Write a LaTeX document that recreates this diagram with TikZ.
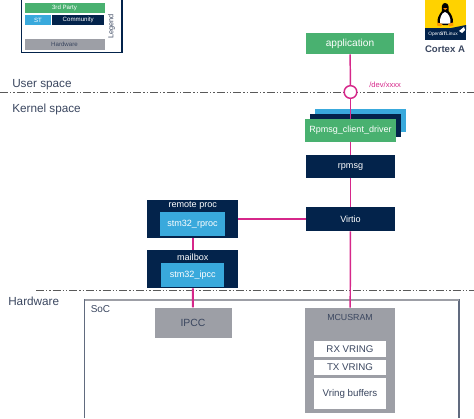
\documentclass[tikz,border=0pt]{standalone}
\usepackage{fontspec}
\setmainfont{Liberation Sans}
\definecolor{stgreen}{HTML}{49B170}
\definecolor{stblue}{HTML}{39A9DC}
\definecolor{stnavy}{HTML}{03234B}
\definecolor{stgrey}{HTML}{9D9FA6}
\definecolor{stpink}{HTML}{D6278A}
\definecolor{sttext}{HTML}{3A465F}
\definecolor{styellow}{HTML}{FFD200}
\tikzset{
  gbox/.style={draw=none,fill=stgreen,text=white},
  nbox/.style={draw=none,fill=stnavy,text=white},
  cbox/.style={draw=none,fill=stblue,text=white},
  ggbox/.style={draw=none,fill=stgrey,text=sttext},
  wbox/.style={draw=none,fill=white,text=sttext},
  link/.style={draw=stpink,line width=1.1pt},
  sep/.style={draw=black!65,line width=0.7pt,dash pattern=on 6pt off 1.5pt on 1pt off 1.5pt on 1pt off 1.5pt},
  lab/.style={text=sttext,font=\fontsize{8.8pt}{10pt}\selectfont,inner sep=0pt,anchor=base west}
}
\begin{document}
\begin{tikzpicture}[x=0.75pt,y=-0.75pt]
\useasboundingbox (0,0) rectangle (474,418);
% separators
\coordinate (sepUa) at (0,92); \coordinate (sepUb) at (474,92);
\coordinate (sepHa) at (36,290); \coordinate (sepHb) at (474,290);
\draw[sep] (sepUa) -- (sepUb);
\draw[sep] (sepHa) -- (sepHb);
% Legend
\node[draw=stnavy,line width=1pt,fill=white,minimum width=75.5pt,minimum height=39.5pt,inner sep=0pt] (legend) at (71.5,26) {};
\node[fill=stgreen,text=white,minimum width=60pt,minimum height=7.9pt,inner sep=0pt,font=\fontsize{4.6pt}{5pt}\selectfont] (l3) at (64.5,8.2) {3rd Party};
\node[fill=stblue,text=white,minimum width=20pt,minimum height=7.9pt,inner sep=0pt,font=\fontsize{4.6pt}{5pt}\selectfont] (lst) at (38,20.2) {ST};
\node[fill=stnavy,text=white,minimum width=39.4pt,minimum height=7.9pt,inner sep=0pt,font=\fontsize{4.6pt}{5pt}\selectfont] (lcom) at (78.2,20.2) {Community};
\node[fill=stgrey,text=sttext,minimum width=60pt,minimum height=7.9pt,inner sep=0pt,font=\fontsize{4.6pt}{5pt}\selectfont] (lhw) at (64.5,44.7) {Hardware};
\node[rotate=90,text=sttext,inner sep=0pt,font=\fontsize{5.5pt}{6pt}\selectfont] (lleg) at (111.5,26.5) {Legend};
% Logo
\fill[stnavy] (425,28) rectangle (466,39.5);
\fill[styellow] (425,0) rectangle (466,28);
\fill[stnavy] (451,28) -- (466,25) -- (466,30) -- (451,30) -- cycle;
\fill[black] (445,3) .. controls (441.5,3) and (441.5,8) .. (442,11) .. controls (438.5,15) and (437,19) .. (437.5,23) -- (443,25) -- (448,25) -- (453,23) .. controls (453.5,19) and (451.5,14) .. (448.5,11) .. controls (449,8) and (449,3) .. (445,3) -- cycle;
\fill[white] (445,12) .. controls (441.5,13) and (439.5,18) .. (440,23.5) -- (450.5,23.5) .. controls (451,18) and (448.5,13) .. (445,12) -- cycle;
\fill[orange] (443,8) -- (447.5,8) -- (445.2,10) -- cycle;
\fill[orange!80!yellow] (437,22.5) -- (442.5,24) -- (441,26.5) -- (437,25.5) -- cycle;
\fill[orange!80!yellow] (453,22.5) -- (448,24) -- (449.5,26.5) -- (453.5,25.5) -- cycle;
\fill[white] (459,31) -- (464,27) -- (465,30) -- (462,33) -- cycle;
\node[text=white,inner sep=0pt,font=\fontsize{3.6pt}{4pt}\selectfont] (logotxt) at (443,34) {Open\textbf{ST}Linux};
\node[text=sttext,inner sep=0pt,font=\fontsize{7.2pt}{9pt}\selectfont\bfseries] (cortex) at (445,49) {Cortex A};
% labels
\node[lab] (us) at (12,87) {User space};
\node[lab] (ks) at (12,112) {Kernel space};
\node[lab] (hw) at (8,305) {Hardware};
\node[text=stpink,inner sep=0pt,anchor=base west,font=\fontsize{5.7pt}{7pt}\selectfont] (dev) at (369,87) {/dev/xxxx};
% SoC
\draw[draw=sttext!80,line width=0.8pt] (84.5,418) -- (84.5,300) -- (459,300) -- (459,418);
\draw[draw=stgrey,line width=1.2pt] (84.5,300) -- (459,300);
\node[text=sttext,inner sep=0pt,anchor=base west,font=\fontsize{7.5pt}{9pt}\selectfont] (soc) at (90.5,312) {SoC};
% Stacked driver boxes
\node[cbox,minimum width=68.25pt,minimum height=17.25pt,inner sep=0pt] (drvb) at (360.5,120.5) {};
\node[nbox,minimum width=68.25pt,minimum height=17.25pt,inner sep=0pt] (drvn) at (355.5,125.5) {};
\node[gbox,minimum width=68.25pt,minimum height=17.25pt,inner sep=0pt,font=\fontsize{6.75pt}{9pt}\selectfont] (drv) at (350.5,130.5) {Rpmsg\_client\_driver};
% Main boxes
\node[gbox,minimum width=66pt,minimum height=15.75pt,inner sep=0pt,font=\fontsize{7.6pt}{9pt}\selectfont] (app) at (350,43.5) {application};
\node[draw=stpink,line width=1.1pt,fill=white,circle,minimum size=9.5pt,inner sep=0pt] (vdev) at (350.5,92) {};
\node[nbox,minimum width=66.75pt,minimum height=17.25pt,inner sep=0pt,font=\fontsize{6.8pt}{9pt}\selectfont] (rpmsg) at (350.5,166.5) {rpmsg};
\node[nbox,minimum width=66.75pt,minimum height=18pt,inner sep=0pt,font=\fontsize{6.8pt}{9pt}\selectfont] (virtio) at (350.5,219) {Virtio};
\node[nbox,minimum width=68pt,minimum height=28.5pt,inner sep=0pt] (rproc) at (192.75,219) {};
\node[text=white,inner sep=0pt,font=\fontsize{6.8pt}{9pt}\selectfont] (rproct) at (192.75,206) {remote proc};
\node[cbox,minimum width=48.75pt,minimum height=18pt,inner sep=0pt,font=\fontsize{6.8pt}{9pt}\selectfont] (rprocd) at (192.5,224) {stm32\_rproc};
\node[nbox,minimum width=68pt,minimum height=28.5pt,inner sep=0pt] (mbox) at (192.75,269) {};
\node[text=white,inner sep=0pt,font=\fontsize{6.8pt}{9pt}\selectfont] (mboxt) at (192.75,257) {mailbox};
\node[cbox,minimum width=47.6pt,minimum height=18pt,inner sep=0pt,font=\fontsize{6.8pt}{9pt}\selectfont] (ipccd) at (192.75,275) {stm32\_ipcc};
\node[ggbox,minimum width=57.75pt,minimum height=23pt,inner sep=0pt,font=\fontsize{7.8pt}{9pt}\selectfont] (ipcc) at (193,323) {IPCC};
\node[ggbox,minimum width=67.5pt,minimum height=78.75pt,inner sep=0pt] (sram) at (350,360.5) {};
\node[text=sttext,inner sep=0pt,font=\fontsize{6.6pt}{8pt}\selectfont] (sramt) at (350,317) {MCUSRAM};
\node[wbox,minimum width=54pt,minimum height=12pt,inner sep=0pt,font=\fontsize{7.3pt}{9pt}\selectfont] (rx) at (350,349) {RX VRING};
\node[wbox,minimum width=54pt,minimum height=11.25pt,inner sep=0pt,font=\fontsize{7.3pt}{9pt}\selectfont] (tx) at (350,367.5) {TX VRING};
\node[wbox,minimum width=54pt,minimum height=23.25pt,inner sep=0pt,font=\fontsize{7.3pt}{9pt}\selectfont] (buf) at (350,393.5) {Vring buffers};
% connectors
\draw[link] (app) -- (vdev);
\draw[link] (vdev) -- (drv);
\draw[link] (drv) -- (rpmsg);
\draw[link] (rpmsg) -- (virtio);
\draw[link] (virtio) -- (sram);
\draw[link] (rproc.east |- virtio) -- (virtio);
\draw[link,line width=1.5pt] (rproc) -- (mbox);
\draw[link,line width=1.5pt] (mbox) -- (ipcc);
\end{tikzpicture}
\end{document}
